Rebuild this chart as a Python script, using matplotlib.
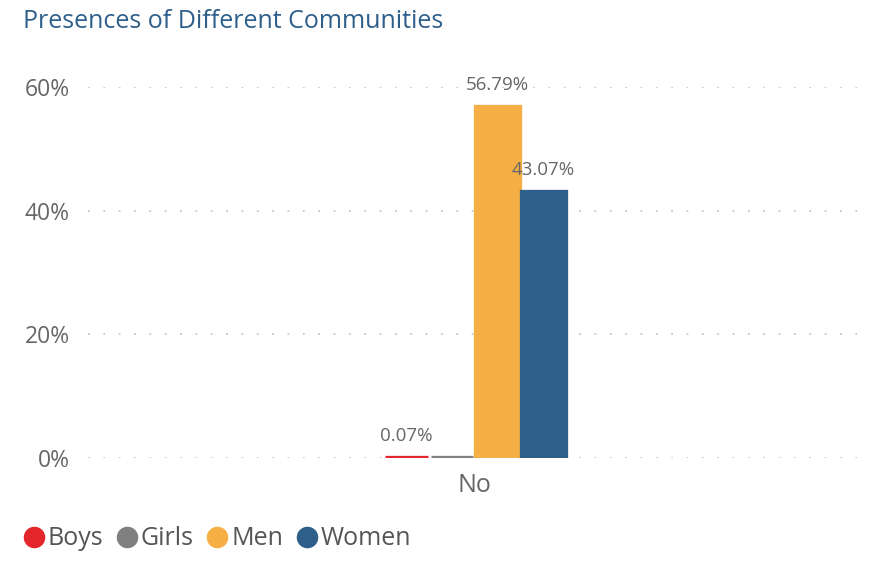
import matplotlib.pyplot as plt
from matplotlib.lines import Line2D
import numpy as np

plt.rcParams["font.family"] = ["Open Sans", "DejaVu Sans"]

categories = ["No"]
series = ["Boys", "Girls", "Men", "Women"]
values = [0.07, 0.07, 56.79, 43.07]
labels = ["0.07%", None, "56.79%", "43.07%"]
colors = ["#E3252C", "#808080", "#F6AF45", "#2E5F8A"]
yticks = [0, 20, 40, 60]

fig = plt.figure(figsize=(8.69, 5.63), dpi=100)
ax = fig.add_axes([0.101, 0.1865, 0.891, 0.659])

width = 0.059
x = np.arange(len(categories))
for i, (name, val) in enumerate(zip(series, values)):
    pos = x + (i - 1.5) * width
    # a thick (clipped) edge keeps the tiny bars visible, as in the original
    ax.bar(pos, [val], width=width - 0.004, color=colors[i], edgecolor=colors[i],
           linewidth=3.8, label=name, zorder=3)
    if labels[i]:
        ax.text(pos[0], val + 2.0, labels[i], ha="center", va="bottom",
                fontsize=13.5, color="#666666", clip_on=False, zorder=4)

ax.set_xlim(-0.5, 0.5)
ax.set_ylim(0, 60)
ax.set_yticks(yticks)
ax.set_yticklabels([f"{t}%" for t in yticks])
ax.set_xticks(x)
ax.set_xticklabels(categories)
ax.tick_params(length=0, labelsize=16.5, labelcolor="#666666")
ax.tick_params(axis="y", pad=13)
ax.tick_params(axis="x", labelsize=18, pad=11)
for s in ax.spines.values():
    s.set_visible(False)
ax.yaxis.grid(True, linestyle=(0, (1, 7.5)), color="#C8C8C8", linewidth=1.3, zorder=0)

fig.text(0.026, 0.962, "Presences of Different Communities", fontsize=18,
         color="#2E5F8A", va="center", ha="left")

handles = [Line2D([], [], marker="o", linestyle="", markersize=14.5,
                  markerfacecolor=c, markeredgecolor=c) for c in colors]
fig.legend(handles, series, loc="center left", bbox_to_anchor=(-0.003, 0.043),
           ncol=4, frameon=False, fontsize=18, handletextpad=-0.2,
           columnspacing=0.2, handlelength=1.5, borderpad=0.2,
           labelcolor="#555555")

fig.savefig("out.png", dpi=100)
